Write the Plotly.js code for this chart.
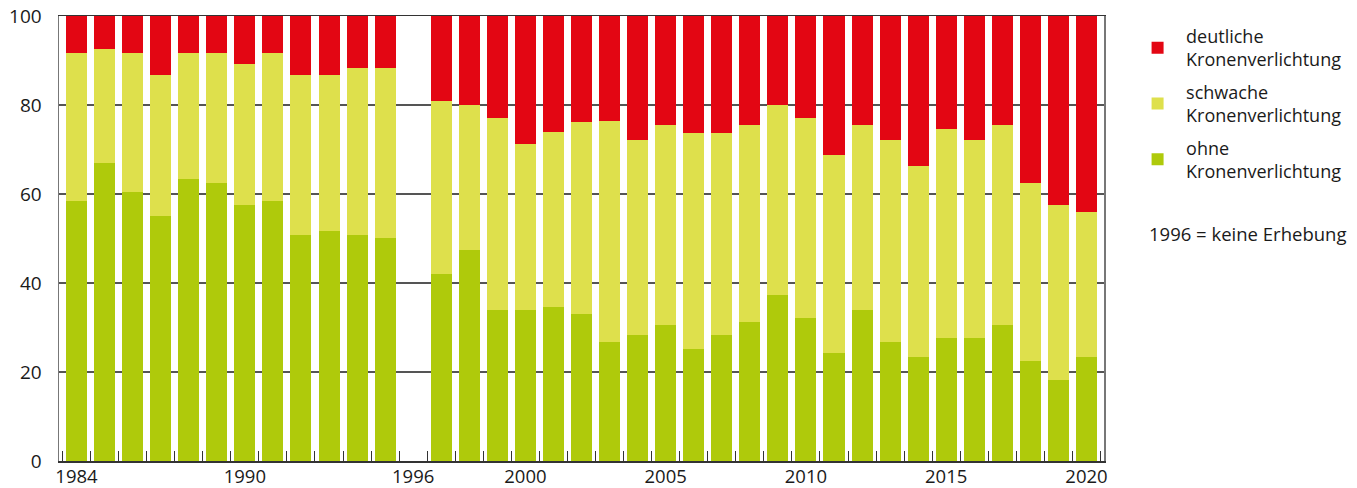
<!DOCTYPE html>
<html>
<head>
<meta charset="utf-8">
<script src="https://cdn.plot.ly/plotly-3.0.1.min.js"></script>
<style>
  html, body { margin: 0; padding: 0; background: #fff; }
  #chart { width: 1357px; height: 488px; }
</style>
</head>
<body>
<div id="chart"></div>
<script>
// Years of the survey (1996 = no survey)
const years = [1984,1985,1986,1987,1988,1989,1990,1991,1992,1993,1994,1995,1996,
               1997,1998,1999,2000,2001,2002,2003,2004,2005,2006,2007,2008,
               2009,2010,2011,2012,2013,2014,2015,2016,2017,2018,2019,2020];

// ohne Kronenverlichtung (%)
const ohne = [58.4,67.0,60.4,55.1,63.4,62.5,57.5,58.4,50.8,51.7,50.8,50.1,null,
              42.0,47.4,33.9,33.9,34.6,33.0,26.7,28.4,30.6,25.2,28.4,31.2,
              37.3,32.1,24.3,33.9,26.7,23.4,27.6,27.6,30.6,22.5,18.2,23.4];

// schwache Kronenverlichtung (%)
const schwach = [33.3,25.6,31.3,31.6,28.3,29.2,31.7,33.3,35.9,35.0,37.5,38.2,null,
                 38.9,32.6,43.2,37.3,39.3,43.2,49.7,43.7,44.9,48.5,45.3,44.3,
                 42.7,45.0,44.5,41.6,45.4,42.9,47.0,44.5,44.9,40.0,39.3,32.6];

// deutliche Kronenverlichtung (%)
const deutlich = [8.3,7.4,8.3,13.3,8.3,8.3,10.8,8.3,13.3,13.3,11.7,11.7,null,
                  19.1,20.0,22.9,28.8,26.1,23.8,23.6,27.9,24.5,26.3,26.3,24.5,
                  20.0,22.9,31.2,24.5,27.9,33.7,25.4,27.9,24.5,37.5,42.5,44.0];

const seriesNames = ['ohne<br>Kronenverlichtung', 'schwache<br>Kronenverlichtung', 'deutliche<br>Kronenverlichtung'];
const seriesColors = ['#afca0b', '#dee04c', '#e30613'];
const legendRanks = [3, 2, 1];

const xTickVals = [1984,1990,1996,2000,2005,2010,2015,2020];
const yTickVals = [0,20,40,60,80,100];
const note = '1996 = keine Erhebung';

const fontFamily = '"Open Sans", "DejaVu Sans", sans-serif';

const data = [ohne, schwach, deutlich].map((vals, i) => ({
  type: 'bar',
  x: years,
  y: vals,
  name: seriesNames[i],
  legendgroup: 'g' + i,
  legendrank: legendRanks[i],
  marker: { color: seriesColors[i], line: { width: 0 } },
  hoverinfo: 'x+y+name'
}));

const layout = {
  width: 1357,
  height: 488,
  margin: { l: 59, r: 253, t: 16, b: 27, pad: 0, autoexpand: false },
  paper_bgcolor: '#ffffff',
  plot_bgcolor: '#ffffff',
  barmode: 'stack',
  bargap: 0.25,
  font: { family: fontFamily, size: 18, color: '#1a1a1a' },
  showlegend: true,
  legend: {
    x: 1.024, xanchor: 'left',
    y: 0.996, yanchor: 'top',
    traceorder: 'grouped',
    itemwidth: 47,
    tracegroupgap: 6,
    font: { family: fontFamily, size: 18, color: '#1a1a1a' },
    bgcolor: 'rgba(0,0,0,0)'
  },
  xaxis: {
    range: [1983.375, 2020.625],
    tickmode: 'array',
    tickvals: xTickVals,
    ticktext: xTickVals.map(String),
    ticks: '',
    ticklabelstandoff: -2,
    showgrid: false,
    zeroline: false,
    showline: true,
    linecolor: '#333333',
    linewidth: 1.5,
    mirror: true,
    tickfont: { family: fontFamily, size: 18.5, color: '#1a1a1a' },
    minor: {
      tickmode: 'linear',
      tick0: 1984.5,
      dtick: 1,
      ticks: 'inside',
      ticklen: 10,
      tickwidth: 1,
      tickcolor: '#333333',
      showgrid: false
    },
    fixedrange: true
  },
  yaxis: {
    range: [0, 100],
    tickmode: 'array',
    tickvals: yTickVals,
    ticktext: yTickVals.map(String),
    ticks: '',
    ticklabelstandoff: 12,
    showgrid: true,
    gridcolor: '#555555',
    gridwidth: 1.2,
    zeroline: false,
    showline: true,
    linecolor: '#777777',
    linewidth: 1.5,
    mirror: true,
    tickfont: { family: fontFamily, size: 19, color: '#1a1a1a' },
    fixedrange: true
  },
  annotations: [{
    text: note,
    xref: 'paper', yref: 'paper',
    x: 1.0411, y: 0.512,
    xanchor: 'left', yanchor: 'middle',
    showarrow: false,
    font: { family: fontFamily, size: 18.5, color: '#1a1a1a' }
  }]
};

Plotly.newPlot('chart', data, layout, { displayModeBar: false, staticPlot: true });
</script>
</body>
</html>
